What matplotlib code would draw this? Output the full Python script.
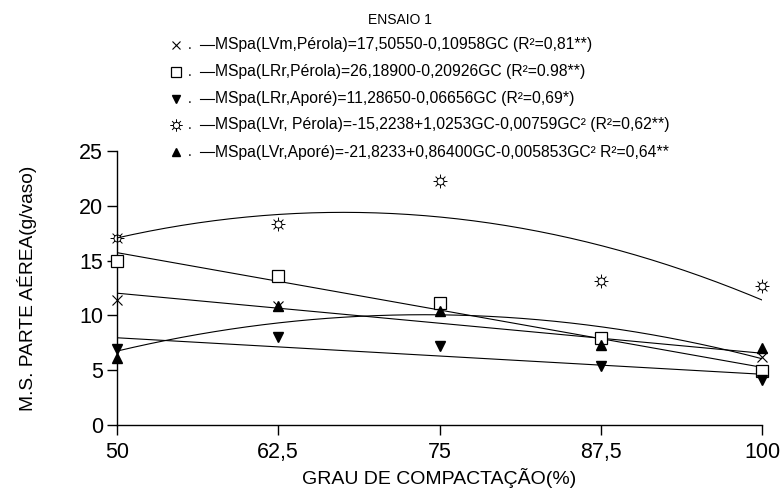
import numpy as np
import matplotlib.pyplot as plt
from matplotlib.lines import Line2D
from matplotlib.path import Path

plt.rcParams['font.family'] = ['Liberation Sans', 'DejaVu Sans']

# grau de compactacao (%)
gc = [50, 62.5, 75, 87.5, 100]

# observed values (g/vaso)
lvm_perola = [11.4, 10.9, 11.0, 7.9, 6.2]
lrr_perola = [15.0, 13.6, 11.1, 7.9, 4.9]
lrr_apore = [6.9, 8.0, 7.2, 5.4, 4.1]
lvr_perola = [17.1, 18.3, 22.3, 13.1, 12.7]
lvr_apore = [6.1, 10.9, 10.4, 7.3, 7.0]

# regression coefficients (a, b, c) -> a + b*GC + c*GC^2
coef_lvm_perola = [17.50550, -0.10958, 0.0]
coef_lrr_perola = [26.18900, -0.20926, 0.0]
coef_lrr_apore = [11.28650, -0.06656, 0.0]
coef_lvr_perola = [-15.2238, 1.0253, -0.00759]
coef_lvr_apore = [-21.8233, 0.86400, -0.005853]

labels = [
    'MSpa(LVm,Pérola)=17,50550-0,10958GC (R²=0,81**)',
    'MSpa(LRr,Pérola)=26,18900-0,20926GC (R²=0.98**)',
    'MSpa(LRr,Aporé)=11,28650-0,06656GC (R²=0,69*)',
    'MSpa(LVr, Pérola)=-15,2238+1,0253GC-0,00759GC² (R²=0,62**)',
    'MSpa(LVr,Aporé)=-21,8233+0,86400GC-0,005853GC² R²=0,64**',
]

# sun symbol: small ring with 8 rays
parts = [Path.circle((0, 0), 0.5)]
for a in np.arange(8) * np.pi / 4:
    parts.append(Path([[0.55*np.cos(a), 0.55*np.sin(a)], [np.cos(a), np.sin(a)]],
                      [Path.MOVETO, Path.LINETO]))
sun = Path.make_compound_path(*parts)

series = [
    (lvm_perola, coef_lvm_perola, dict(marker='x', ms=7, mew=0.8, color='black')),
    (lrr_perola, coef_lrr_perola, dict(marker='s', ms=8, mew=0.9, mfc='white', color='black')),
    (lrr_apore, coef_lrr_apore, dict(marker='v', ms=7, color='black')),
    (lvr_perola, coef_lvr_perola, dict(marker=sun, ms=10, mew=0.7, mfc='none', color='black')),
    (lvr_apore, coef_lvr_apore, dict(marker='^', ms=7, color='black')),
]

fig = plt.figure(figsize=(7.81, 5.04), dpi=100)
ax = fig.add_axes([117/781, 1-425/504, 645/781, 274/504])

xs = np.linspace(50, 100, 200)
for vals, c, style in series:
    ys = c[0] + c[1]*xs + c[2]*xs**2
    ax.plot(xs, ys, color='black', lw=0.8, zorder=2)
    ax.plot(gc, vals, ls='none', clip_on=False, zorder=3, **style)

ax.set_xlim(50, 100)
ax.set_ylim(0, 25)
ax.set_xticks(gc)
ax.set_xticklabels(['50', '62,5', '75', '87,5', '100'])
ax.set_yticks([0, 5, 10, 15, 20, 25])
ax.spines['top'].set_visible(False)
ax.spines['right'].set_visible(False)
for s in ['left', 'bottom']:
    ax.spines[s].set_linewidth(1.0)
ax.tick_params(axis='both', direction='out', length=7, width=1.0, labelsize=15.5, pad=3)
ax.tick_params(axis='x', pad=5)
ax.set_ylabel('M.S. PARTE AÉREA(g/vaso)', fontsize=13.8, labelpad=30)
ax.set_xlabel('GRAU DE COMPACTAÇÃO(%)', fontsize=14, labelpad=4)

# legend drawn by hand
fig.text(400/781, 1-20/504, 'ENSAIO 1', ha='center', va='center', fontsize=10)
rows_y = [45, 72, 99, 125, 152]
for (vals, c, style), lab, yp in zip(series, labels, rows_y):
    yf = 1 - yp/504
    st = dict(style)
    st['ms'] = st['ms'] * 0.9
    fig.add_artist(Line2D([176/781], [yf], ls='none', transform=fig.transFigure, **st))
    fig.text(188/781, yf, '.', ha='left', va='center', fontsize=10)
    fig.add_artist(Line2D([200/781, 214/781], [yf, yf], color='black', lw=0.8,
                          transform=fig.transFigure))
    fig.text(215/781, yf, lab, ha='left', va='center', fontsize=11.3)

fig.savefig('out.png', dpi=100)
